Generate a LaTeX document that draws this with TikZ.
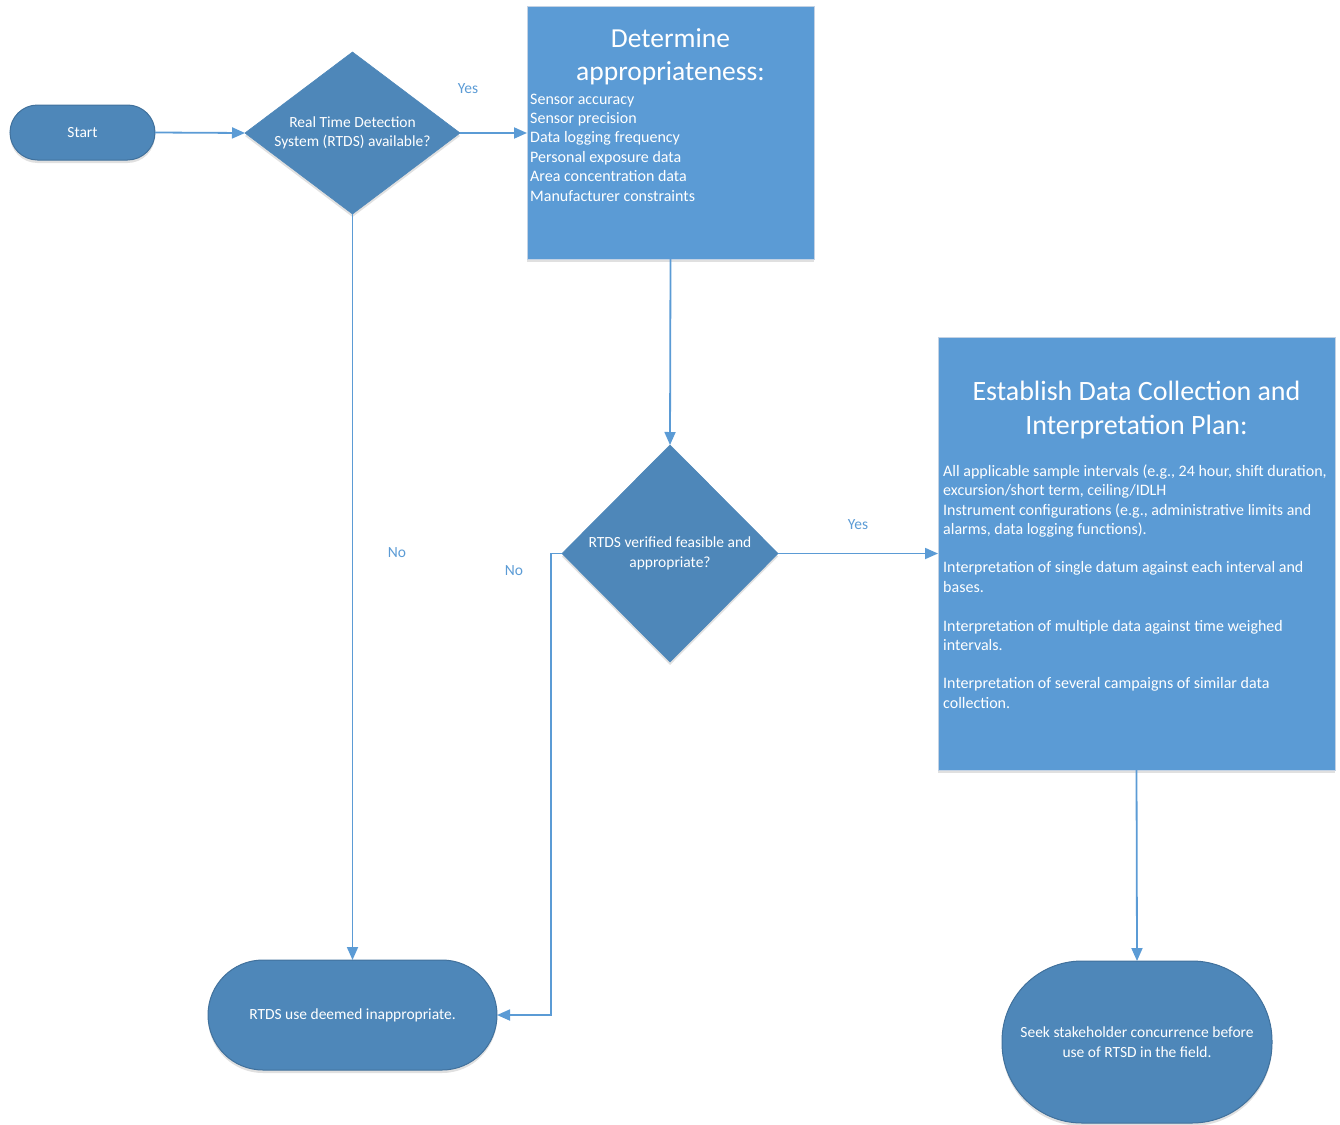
\documentclass[tikz,border=0pt]{standalone}
\usepackage{fontspec}
\setmainfont{Carlito}
\usetikzlibrary{arrows.meta,shapes.geometric,shadows}
\definecolor{dkblue}{RGB}{78,135,185}
\definecolor{edgeblue}{RGB}{65,113,156}
\definecolor{boxblue}{RGB}{91,155,213}
\definecolor{lineblue}{RGB}{91,155,213}
\definecolor{boxedge}{RGB}{195,210,228}
\begin{document}
\begin{tikzpicture}[x=1pt,y=-1pt,
  shd/.style={drop shadow={shadow xshift=0pt,shadow yshift=-3pt,opacity=0.12,fill=black}},
  term/.style={shd,draw=edgeblue,line width=1pt,fill=dkblue,text=white,inner sep=0pt,outer sep=0pt,align=center,font=\fontsize{15.5}{19.5}\selectfont},
  dia/.style={shd,diamond,draw=dkblue,line width=0.6pt,fill=dkblue,inner sep=0pt,outer sep=0pt},
  dtext/.style={text=white,inner sep=0pt,align=center,font=\fontsize{15.5}{19.5}\selectfont},
  proc/.style={shd,rectangle,draw=boxedge,line width=1pt,fill=boxblue,inner sep=0pt,outer sep=0pt},
  ttl/.style={text=white,inner sep=0pt,anchor=base},
  txt/.style={text=white,inner sep=0pt,anchor=base west,font=\fontsize{16}{19.4}\selectfont},
  lbl/.style={text=lineblue,inner sep=0pt,font=\fontsize{15.5}{19}\selectfont},
  conn/.style={draw=lineblue,line width=1.8pt,-{Triangle[length=13pt,width=11pt]}}
]
\useasboundingbox (0,0) rectangle (1340,1124);

% nodes
\node[term,minimum width=145pt,minimum height=55pt,rounded corners=27.5pt] (start) at (82.5,132.5) {Start};
\node[dia,minimum width=215pt,minimum height=162pt] (d1) at (352.5,133) {};
\node[dtext] (d1t) at (352.5,133) {Real Time Detection\\System (RTDS) available?};

\node[proc,minimum width=287pt,minimum height=252pt] (b1) at (670.5,133) {};
\node[ttl,font=\fontsize{27.5}{32}\selectfont] (b1t1) at (670.5,48) {Determine};
\node[ttl,font=\fontsize{27.5}{32}\selectfont] (b1t2) at (670.5,80) {appropriateness:};
\foreach \t [count=\i] in {Sensor accuracy,Sensor precision,Data logging frequency,Personal exposure data,Area concentration data,Manufacturer constraints}
  \node[txt] (b1l\i) at (530,{104+19.4*(\i-1)}) {\t};

\node[dia,minimum width=216pt,minimum height=217pt] (d2) at (670,553.5) {};
\node[dtext] (d2t) at (670,553.5) {RTDS verified feasible and\\appropriate?};

\node[proc,minimum width=397pt,minimum height=433pt] (b2) at (1136.5,553.5) {};
\node[ttl,font=\fontsize{28}{34}\selectfont] (b2t1) at (1136.5,400) {Establish Data Collection and};
\node[ttl,font=\fontsize{28}{34}\selectfont] (b2t2) at (1136.5,434) {Interpretation Plan:};
\node[txt] (b2l1) at (943,476) {All applicable sample intervals (e.g., 24 hour, shift duration,};
\node[txt] (b2l2) at (943,495.5) {excursion/short term, ceiling/IDLH};
\node[txt] (b2l3) at (943,515) {Instrument configurations (e.g., administrative limits and};
\node[txt] (b2l4) at (943,534) {alarms, data logging functions).};
\node[txt] (b2l5) at (943,572.5) {Interpretation of single datum against each interval and};
\node[txt] (b2l6) at (943,592) {bases.};
\node[txt] (b2l7) at (943,631) {Interpretation of multiple data against time weighed};
\node[txt] (b2l8) at (943,650) {intervals.};
\node[txt] (b2l9) at (943,688.5) {Interpretation of several campaigns of similar data};
\node[txt] (b2l10) at (943,708) {collection.};

\node[term,minimum width=289pt,minimum height=110pt,rounded corners=55pt] (t2) at (352.5,1015) {RTDS use deemed inappropriate.};
\node[term,minimum width=270pt,minimum height=162pt,rounded corners=80pt] (t3) at (1137,1042) {Seek stakeholder concurrence before\\use of RTSD in the field.};

% labels
\node[lbl] (yes1) at (468,89) {Yes};
\node[lbl] (yes2) at (858,525) {Yes};
\node[lbl] (no1) at (397,553) {No};
\node[lbl] (no2) at (514,571) {No};

% connectors
\draw[conn] (start.east) -- (d1.west);
\draw[conn] (d1.east) -- (b1.west);
\draw[conn] (b1.south) -- (d2.north);
\draw[conn] (d2.east) -- (b2.west);
\draw[conn] (d1.south) -- (t2.north);
\draw[conn] (d2.west) -- ++(-11,0) |- (t2.east);
\draw[conn] (b2.south) -- (t3.north);
\end{tikzpicture}
\end{document}
